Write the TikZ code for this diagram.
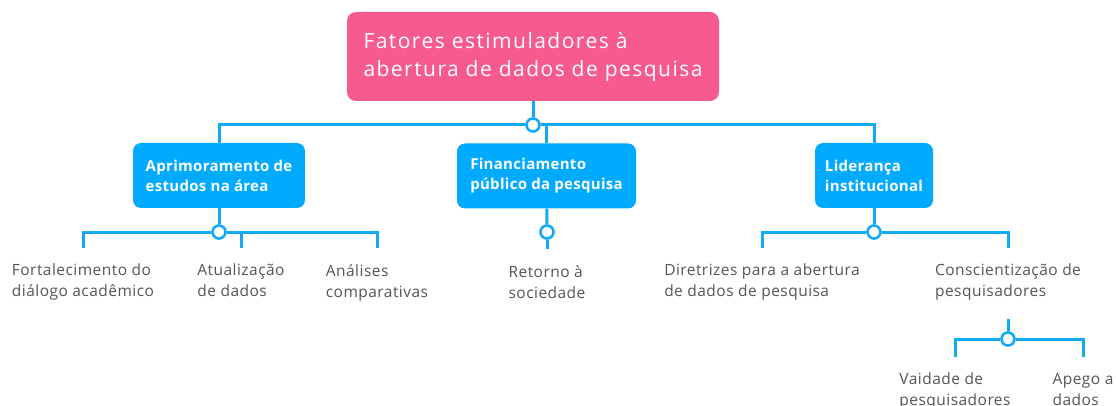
\documentclass[tikz,border=0pt]{standalone}
\usepackage{fontspec}
\setmainfont{Open Sans}
\definecolor{pinkbox}{HTML}{F75B8D}
\definecolor{bluebox}{HTML}{00AAFF}
\definecolor{blueline}{HTML}{14A9F5}
\definecolor{leafgray}{HTML}{555555}
\begin{document}
\begin{tikzpicture}[x=1pt,y=-1pt,
  rootbox/.style={fill=pinkbox, rounded corners=9pt, text=white,
    font=\fontsize{21}{28}\selectfont\addfontfeature{LetterSpace=7}, align=left,
    minimum width=372pt, minimum height=89pt},
  catbox/.style={fill=bluebox, rounded corners=8pt, text=white,
    font=\fontsize{15}{20}\selectfont\bfseries\addfontfeature{LetterSpace=2}, align=left,
    minimum height=65pt},
  junction/.style={circle, draw=blueline, fill=white, line width=2.6pt,
    minimum size=13pt, inner sep=0pt},
  conn/.style={draw=blueline, line width=3pt},
  leaf/.style={font=\fontsize{15.5}{21}\selectfont\addfontfeature{LetterSpace=3}, text=leafgray, align=left,
    anchor=north, inner xsep=0pt, inner ysep=16pt, execute at begin node=\strut}]
\useasboundingbox (0,0) rectangle (1116,406);
\fill[white] (0,0) rectangle (1116,406);

\node[rootbox] (root) at (533,56.5) {Fatores estimuladores à\\abertura de dados de pesquisa};

\node[catbox, minimum width=172pt] (aprim) at (219,175.5) {Aprimoramento de\\estudos na área};
\node[catbox, minimum width=179pt] (finan) at (546.5,176) {Financiamento\\público da pesquisa};
\node[catbox, minimum width=118pt] (lider) at (874,175.5) {Liderança\\institucional};

\node[junction] (j0) at (533,125) {};
\node[junction] (j1) at (219,232) {};
\node[junction] (j2) at (547,232) {};
\node[junction] (j3) at (874,232) {};
\node[junction] (j4) at (1008,339) {};

\node[leaf] (l1) at (83,248) {Fortalecimento do\\diálogo acadêmico};
\node[leaf] (l2) at (241,248) {Atualização\\de dados};
\node[leaf] (l3) at (377,248) {Análises\\comparativas};
\node[leaf] (l4) at (547,249) {Retorno à\\sociedade};
\node[leaf] (l5) at (762,248) {Diretrizes para a abertura\\de dados de pesquisa};
\node[leaf] (l6) at (1008,248) {Conscientização de\\pesquisadores};
\node[leaf] (l7) at (955,357) {Vaidade de\\pesquisadores};
\node[leaf] (l8) at (1083,357) {Apego a\\dados};

\draw[conn] (root) -- (j0);
\draw[conn] (j0) -| (aprim);
\draw[conn] (j0) -| (finan);
\draw[conn] (j0) -| (lider);

\draw[conn] (aprim) -- (j1);
\draw[conn] (j1) -| (l1);
\draw[conn] (j1) -| (l2);
\draw[conn] (j1) -| (l3);

\draw[conn] (finan) -- (j2);
\draw[conn] (j2) -- (l4);

\draw[conn] (lider) -- (j3);
\draw[conn] (j3) -| (l5);
\draw[conn] (j3) -| (l6);

\draw[conn] (l6) -- (j4);
\draw[conn] (j4) -| (l7);
\draw[conn] (j4) -| (l8);
\end{tikzpicture}
\end{document}
